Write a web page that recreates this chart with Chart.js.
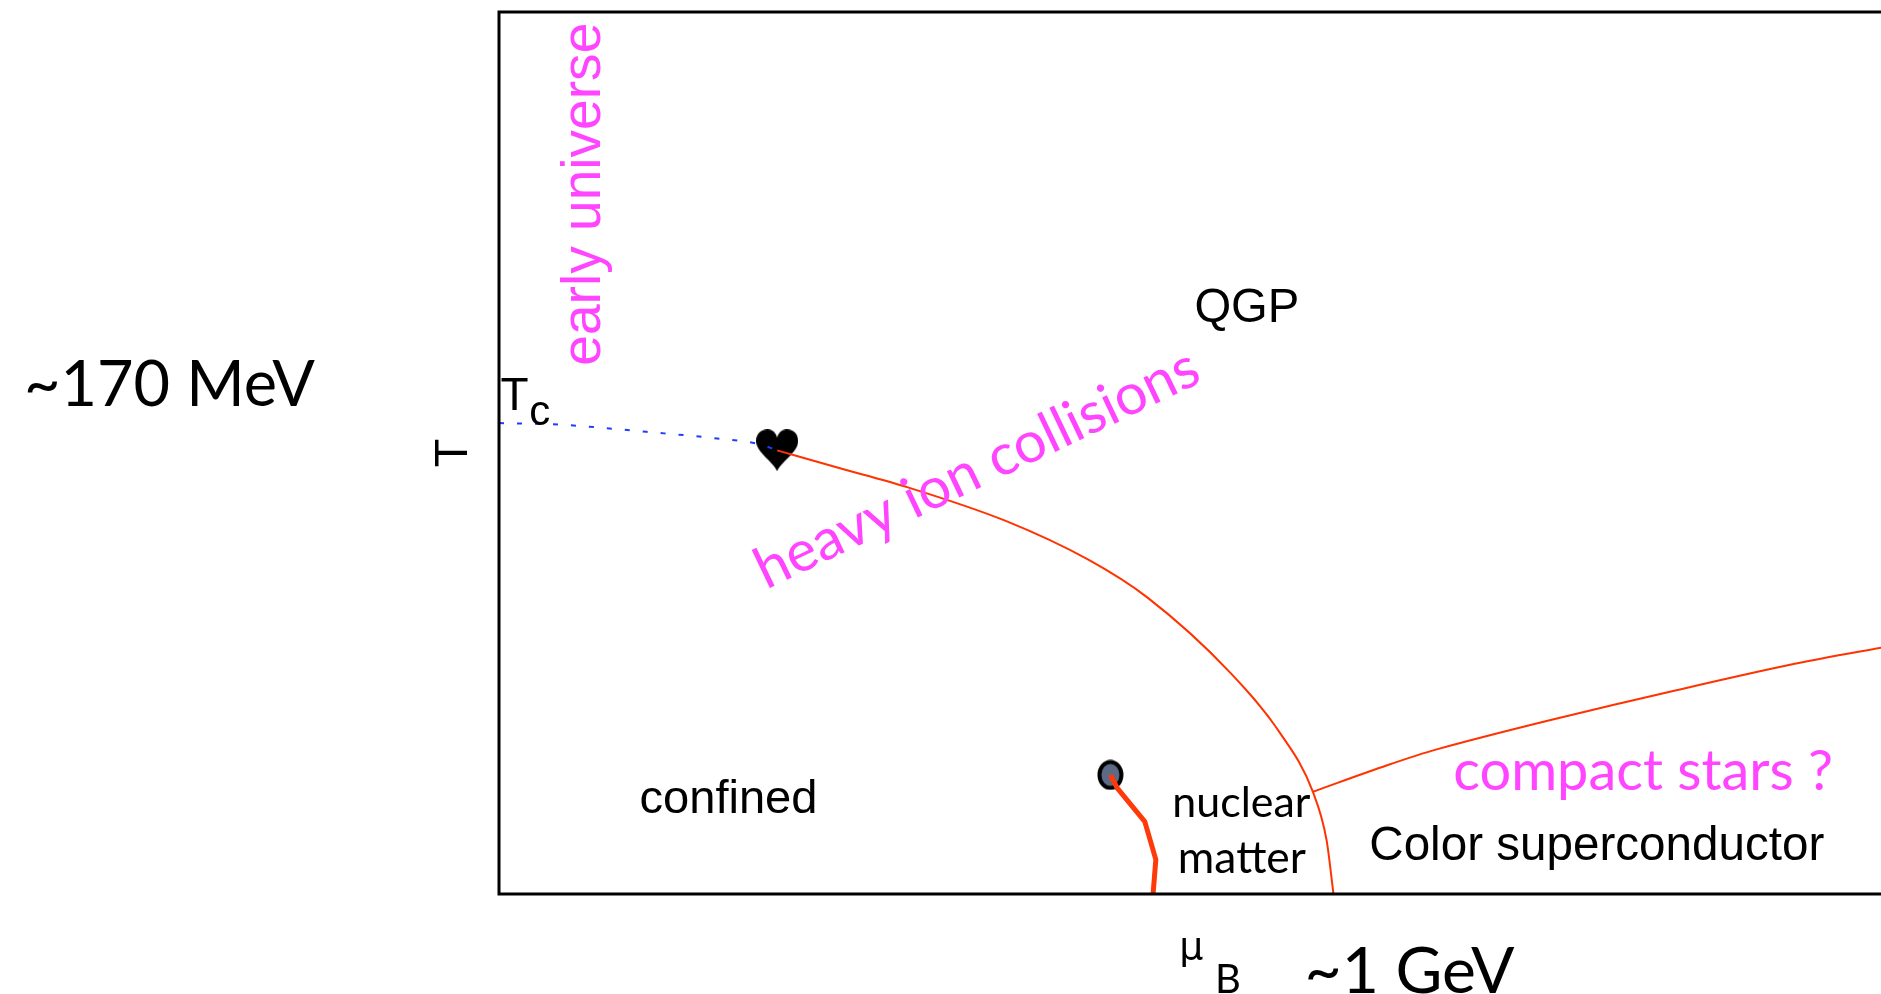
<!DOCTYPE html>
<html>
<head>
<meta charset="utf-8">
<script src="https://cdn.jsdelivr.net/npm/chart.js@4.4.1/dist/chart.umd.min.js"></script>
<style>
html, body { margin: 0; padding: 0; background: #fff; overflow: hidden; }
#wrap { width: 1881px; height: 994px; position: relative; }
#phase { display: block; }
</style>
</head>
<body>
<div id="wrap"><canvas id="phase"></canvas></div>
<script>
// 축 범위 (임의 단위: x = mu_B, y = T)
const xMin = 0, xMax = 100;
const yMin = 0, yMax = 100;

// crossover (파란 점선)
const crossX = [0, 4.6, 10.7, 15.5, 18.9, 20.2];
const crossY = [53.4, 53.2, 52.4, 51.7, 51.0, 50.3];

// 1차 상전이선 (빨간 곡선)
const firstX = [20.2, 24.7, 29.5, 36.8, 42.8, 47.1, 53.1, 56.7, 59.1, 60.1, 60.6];
const firstY = [50.3, 48.3, 46.2, 42.3, 37.9, 33.6, 25.1, 18.3, 11.6, 6.1, 0];

// color superconductor 경계 (오른쪽 끝 밖으로 이어짐)
const cscX = [59.1, 64.5, 68.1, 76.3, 85.5, 94.1, 101];
const cscY = [11.6, 14.6, 16.4, 19.7, 23.1, 26.1, 28.1];

// nuclear liquid-gas 선 (굵은 선)
const nucX = [44.4, 44.9, 46.9, 47.7, 47.5];
const nucY = [13.5, 12.0, 8.2, 3.9, 0];

// 임계점 (하트) / 끝점 (원)
const critX = [20.2], critY = [50.3];
const endX = [44.4], endY = [13.5];

const GILL = 'Lato, "Open Sans", sans-serif';
const HELV = '"Liberation Sans", Arial, sans-serif';
const PINK = '#ff45ff';
const RED = '#ff3300';

// 텍스트 라벨 (데이터 좌표, w = 목표 폭 px)
const notes = [
    { text: '~170 MeV', x: -34.5, y: 55.3, w: 291, font: GILL, color: '#000' },
    { text: 'T', x: -2.3, y: 50.0, size: 47, font: HELV, color: '#000', rot: -90, align: 'center' },
    { text: 'T', x: 0.1, y: 54.9, size: 46, font: HELV, color: '#000' },
    { text: 'c', x: 2.2, y: 53.2, size: 42, font: HELV, color: '#000' },
    { text: 'early universe', x: 7.3, y: 59.9, w: 343, font: HELV, color: PINK, rot: -90 },
    { text: 'QGP', x: 50.5, y: 64.85, w: 105, font: HELV, color: '#000' },
    { text: 'heavy ion collisions', x: 19.4, y: 34.5, w: 485, font: GILL, color: PINK, rot: -25.5 },
    { text: 'confined', x: 10.2, y: 9.2, w: 178, font: HELV, color: '#000' },
    { text: 'nuclear', x: 48.9, y: 8.7, w: 138, font: GILL, color: '#000' },
    { text: 'matter', x: 49.3, y: 2.4, w: 128, font: GILL, color: '#000' },
    { text: 'Color superconductor', x: 63.2, y: 3.85, w: 455, font: HELV, color: '#000' },
    { text: 'compact stars ?', x: 69.3, y: 11.8, w: 380, font: GILL, color: PINK },
    { text: 'μ', x: 49.4, y: -7.4, size: 38, font: '"DejaVu Sans", sans-serif', color: '#000' },
    { text: 'B', x: 52.0, y: -11.2, size: 40, font: GILL, color: '#000' },
    { text: '~1 GeV', x: 58.5, y: -11.2, w: 210, font: GILL, color: '#000' }
];

function toPoints(xs, ys) {
    return xs.map((x, i) => ({ x: x, y: ys[i] }));
}

// 하트 모양 포인트
function heartImage(w, h) {
    const c = document.createElement('canvas');
    c.width = w; c.height = h;
    const g = c.getContext('2d');
    g.fillStyle = '#000';
    g.beginPath();
    g.moveTo(w / 2, h);
    g.bezierCurveTo(w * 0.42, h * 0.78, 0, h * 0.55, 0, h * 0.28);
    g.bezierCurveTo(0, h * 0.08, w * 0.14, 0, w * 0.27, 0);
    g.bezierCurveTo(w * 0.4, 0, w * 0.48, h * 0.1, w / 2, h * 0.2);
    g.bezierCurveTo(w * 0.52, h * 0.1, w * 0.6, 0, w * 0.73, 0);
    g.bezierCurveTo(w * 0.86, 0, w, h * 0.08, w, h * 0.28);
    g.bezierCurveTo(w, h * 0.55, w * 0.58, h * 0.78, w / 2, h);
    g.closePath();
    g.fill();
    return c;
}

// 타원 끝점
function dotImage(w, h) {
    const c = document.createElement('canvas');
    c.width = w; c.height = h;
    const g = c.getContext('2d');
    g.beginPath();
    g.ellipse(w / 2, h / 2, w / 2 - 2.5, h / 2 - 2.5, 0, 0, Math.PI * 2);
    g.fillStyle = '#5b6a85';
    g.fill();
    g.lineWidth = 4;
    g.strokeStyle = '#000';
    g.stroke();
    return c;
}

// 프레임 + 라벨
const decor = {
    id: 'decor',
    afterDraw(chart) {
        const { ctx, chartArea: a, scales } = chart;
        ctx.save();
        ctx.strokeStyle = '#000';
        ctx.lineWidth = 3;
        ctx.beginPath();
        ctx.moveTo(chart.width + 5, a.top);
        ctx.lineTo(a.left, a.top);
        ctx.lineTo(a.left, a.bottom);
        ctx.lineTo(chart.width + 5, a.bottom);
        ctx.stroke();

        notes.forEach(n => {
            let size = n.size;
            if (!size) {
                ctx.font = `100px ${n.font}`;
                size = 100 * n.w / ctx.measureText(n.text).width;
            }
            ctx.font = `${size.toFixed(1)}px ${n.font}`;
            ctx.fillStyle = n.color;
            ctx.textAlign = n.align || 'left';
            ctx.textBaseline = 'alphabetic';
            ctx.save();
            ctx.translate(scales.x.getPixelForValue(n.x), scales.y.getPixelForValue(n.y));
            if (n.rot) ctx.rotate(n.rot * Math.PI / 180);
            ctx.fillText(n.text, 0, 0);
            ctx.restore();
        });
        ctx.restore();
    }
};

const ctx = document.getElementById('phase').getContext('2d');
const chart = new Chart(ctx, {
    type: 'scatter',
    data: {
        datasets: [
            { label: 'crossover', data: toPoints(crossX, crossY), showLine: true, borderColor: '#1f3cff',
              borderWidth: 2, borderDash: [5, 13], pointRadius: 0, cubicInterpolationMode: 'monotone' },
            { label: 'first order', data: toPoints(firstX, firstY), showLine: true, borderColor: RED,
              borderWidth: 2, pointRadius: 0, cubicInterpolationMode: 'monotone' },
            { label: 'CSC', data: toPoints(cscX, cscY), showLine: true, borderColor: RED,
              borderWidth: 2, pointRadius: 0, tension: 0.3, clip: false },
            { label: 'nuclear', data: toPoints(nucX, nucY), showLine: true, borderColor: '#ff3a0a',
              borderWidth: 5, pointRadius: 0, tension: 0, borderJoinStyle: 'round' },
            { label: 'end', data: toPoints(endX, endY), pointStyle: dotImage(27, 31) },
            { label: 'critical', data: toPoints(critX, critY), pointStyle: heartImage(42, 42) }
        ]
    },
    options: {
        responsive: true,
        maintainAspectRatio: false,
        animation: false,
        layout: { padding: { left: 499, top: 12, right: 0, bottom: 100 } },
        scales: {
            x: { type: 'linear', min: xMin, max: xMax, display: false },
            y: { type: 'linear', min: yMin, max: yMax, display: false }
        },
        plugins: {
            legend: { display: false },
            tooltip: { enabled: false }
        }
    },
    plugins: [decor]
});
</script>
</body>
</html>
